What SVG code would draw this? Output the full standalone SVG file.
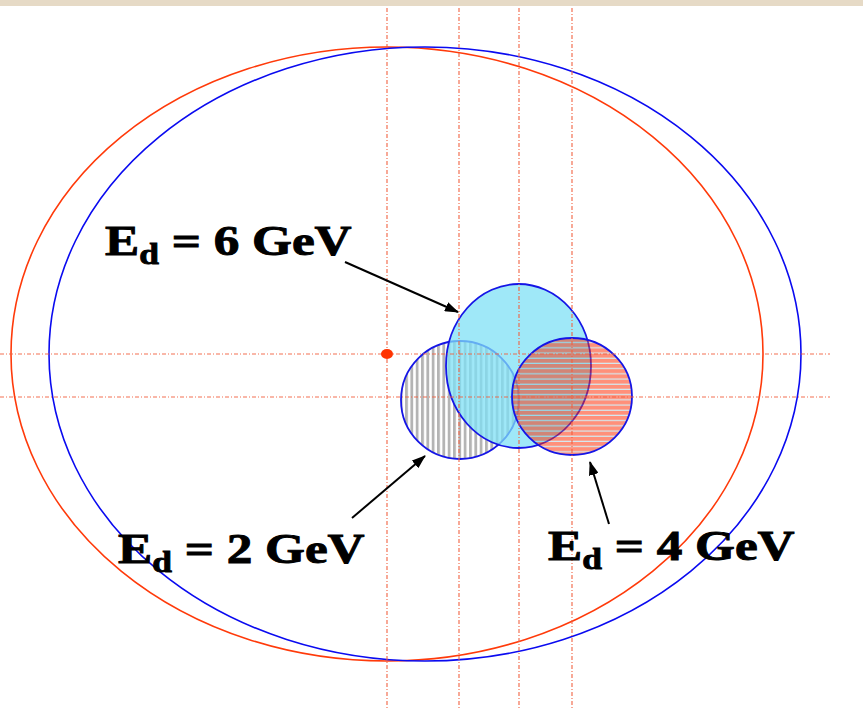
<svg xmlns="http://www.w3.org/2000/svg" width="863" height="710" viewBox="0 0 863 710">
<style>
.guide{stroke:#f2603f;stroke-width:1.2;stroke-dasharray:4 2 1 2;fill:none;opacity:0.9}
.big{fill:none;stroke-width:1.6}
.circ{stroke:#1515e6;stroke-width:1.8}
.lbl{font-family:"Liberation Serif","Times New Roman",serif;font-weight:bold;font-size:42px;fill:#000;stroke:#000;stroke-width:0.9}
.arr{stroke:#000;stroke-width:2;fill:none;marker-end:url(#ah)}
</style>
<defs>
<pattern id="vstripe" width="5.33" height="10" patternUnits="userSpaceOnUse">
<rect width="5.33" height="10" fill="#fff"/>
<rect x="0" width="2.8" height="10" fill="#b4b4b4"/>
</pattern>
<pattern id="hstripe" width="10" height="5.2" patternUnits="userSpaceOnUse">
<rect width="10" height="4.1" fill="#ff2a00" fill-opacity="0.52"/>
<rect y="4.1" width="10" height="1.1" fill="#7fc8e0" fill-opacity="0.35"/>
</pattern>
<marker id="ah" viewBox="0 0 14 10" refX="13" refY="5" markerWidth="14" markerHeight="10" markerUnits="userSpaceOnUse" orient="auto">
<path d="M0,0 L14,5 L0,10 Z" fill="#000"/>
</marker>
</defs>
<rect width="863" height="710" fill="#fff"/>
<rect id="top-band" width="863" height="6" fill="#e6dac6"/>
<g id="outer-red"><ellipse class="big" cx="387" cy="354" rx="376" ry="307" stroke="#ff3a0a"/></g>
<g id="outer-blue"><ellipse class="big" cx="425" cy="354" rx="376" ry="307" stroke="#0a0af0"/></g>
<g id="region-2gev"><circle class="circ" cx="460" cy="400" r="59" fill="url(#vstripe)"/></g>
<g id="region-6gev"><ellipse class="circ" cx="518.5" cy="366" rx="72.5" ry="82" fill="#7fe0f5" fill-opacity="0.75"/></g>
<g id="region-4gev"><ellipse class="circ" cx="572" cy="396.5" rx="60" ry="58.5" fill="url(#hstripe)"/></g>
<g id="guides">
<line class="guide" x1="387" y1="8" x2="387" y2="710"/>
<line class="guide" x1="459" y1="8" x2="459" y2="710"/>
<line class="guide" x1="519" y1="8" x2="519" y2="710"/>
<line class="guide" x1="572" y1="8" x2="572" y2="710"/>
<line class="guide" x1="0" y1="354" x2="830" y2="354"/>
<line class="guide" x1="0" y1="397" x2="830" y2="397"/>
</g>
<g id="origin"><ellipse cx="387" cy="354" rx="6" ry="5" fill="#ff3300"/></g>
<g id="connectors">
<line class="arr" x1="345" y1="262" x2="458" y2="312"/>
<line class="arr" x1="352" y1="518" x2="425" y2="456"/>
<line class="arr" x1="609" y1="524" x2="590" y2="462"/>
</g>
<g id="label-6gev"><text class="lbl" transform="translate(105,255) scale(1.22,1)">E<tspan font-size="29" dy="9">d</tspan><tspan dy="-9"> = 6 GeV</tspan></text></g>
<g id="label-2gev"><text class="lbl" transform="translate(118,563) scale(1.22,1)">E<tspan font-size="29" dy="9">d</tspan><tspan dy="-9"> = 2 GeV</tspan></text></g>
<g id="label-4gev"><text class="lbl" transform="translate(548,560) scale(1.22,1)">E<tspan font-size="29" dy="9">d</tspan><tspan dy="-9"> = 4 GeV</tspan></text></g>
</svg>
